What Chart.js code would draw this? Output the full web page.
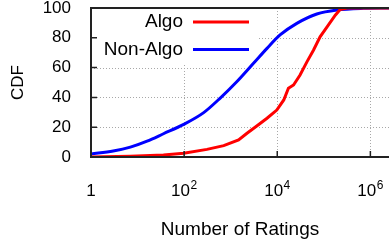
<!DOCTYPE html>
<html>
<head>
<meta charset="utf-8">
<script src="https://cdn.jsdelivr.net/npm/chart.js@4.4.0/dist/chart.umd.min.js"></script>
<style>
  body { margin: 0; background: #fff; }
  canvas { display: block; }
</style>
</head>
<body>
<canvas id="cdfChart" width="389" height="245"></canvas>
<script>
// number of ratings (x) and CDF in percent (y)
const algoRatings = [1, 7, 36, 98, 309, 708, 1479, 2239, 3631, 6026, 9772, 13804, 17378, 22387, 30903, 43652, 60256, 83176, 125893, 177828, 223872, 316228, 2511886];
const algoCdf     = [0, 0.5, 1.3, 2.5, 5.1, 7.6, 11.4, 15.9, 20.8, 26, 31.5, 38.3, 46.1, 48.3, 55, 64, 71.8, 80.7, 88.6, 95.3, 99, 100, 100];

const nonAlgoRatings = [1, 3, 7, 16, 36, 98, 263, 589, 1349, 3090, 6026, 11482, 26303, 70795, 190546, 707946, 2511886];
const nonAlgoCdf     = [2, 4, 6.6, 10.6, 15.6, 21.9, 29.8, 39.4, 50.5, 62.9, 72.9, 81.9, 89.7, 96, 98.7, 99.8, 100];

// x tick values, written as base and exponent ('' = no exponent)
const xTickValues = [1, 100, 10000, 1000000];
const xTickBases = ['1', '10', '10', '10'];
const xTickExps = ['', '2', '4', '6'];
const xMax = 2511886;

const FONT = '"Liberation Sans", Arial, Helvetica, sans-serif';

function toPoints(xs, ys)
{
    const pts = [];
    for (let i = 0; i < xs.length; i++)
    {
        pts.push({ x: xs[i], y: ys[i] });
    }
    return pts;
}

// dotted grid, frame, inner tick marks, x labels with exponents, and the key
const framePlugin = {
    id: 'frame',
    beforeDatasetsDraw(chart) {
        const ctx = chart.ctx;
        const a = chart.chartArea;
        const xs = chart.scales.x;
        const ys = chart.scales.y;
        ctx.save();
        ctx.strokeStyle = '#a8a8a8';
        ctx.lineWidth = 1;
        ctx.setLineDash([1, 2]);
        ctx.beginPath();
        xs.ticks.forEach(t => {
            const px = Math.round(xs.getPixelForValue(t.value)) + 0.5;
            ctx.moveTo(px, a.top);
            ctx.lineTo(px, a.bottom);
        });
        ys.ticks.forEach(t => {
            const py = Math.round(ys.getPixelForValue(t.value)) + 0.5;
            ctx.moveTo(a.left, py);
            ctx.lineTo(a.right, py);
        });
        ctx.stroke();
        ctx.setLineDash([]);
        // white box for the key, hides the grid behind it
        ctx.fillStyle = '#fff';
        ctx.fillRect(a.left + 2, a.top + 2, 165, 53);
        ctx.restore();
    },
    afterDraw(chart) {
        const ctx = chart.ctx;
        const a = chart.chartArea;
        const xs = chart.scales.x;
        const ys = chart.scales.y;
        ctx.save();
        ctx.strokeStyle = '#222';
        ctx.lineWidth = 1.5;
        ctx.beginPath();
        xs.ticks.forEach(t => {
            const px = xs.getPixelForValue(t.value);
            ctx.moveTo(px, a.bottom);
            ctx.lineTo(px, a.bottom - 6);
        });
        ys.ticks.forEach(t => {
            const py = ys.getPixelForValue(t.value);
            ctx.moveTo(a.left, py);
            ctx.lineTo(a.left + 6, py);
        });
        ctx.stroke();
        ctx.lineWidth = 2;
        ctx.strokeRect(a.left, a.top, a.right - a.left + 2, a.bottom - a.top);

        // x tick labels, 10 with a raised exponent
        ctx.fillStyle = '#000';
        ctx.textBaseline = 'alphabetic';
        ctx.textAlign = 'left';
        const baseY = a.bottom + 39;
        xs.ticks.forEach(t => {
            const i = xTickValues.indexOf(t.value);
            if (i < 0) return;
            const px = xs.getPixelForValue(t.value);
            ctx.font = '17px ' + FONT;
            const wb = ctx.measureText(xTickBases[i]).width;
            ctx.font = '12px ' + FONT;
            const we = xTickExps[i] ? ctx.measureText(xTickExps[i]).width + 0.5 : 0;
            const x0 = px - (wb + we) / 2;
            ctx.font = '17px ' + FONT;
            ctx.fillText(xTickBases[i], x0, baseY);
            if (xTickExps[i])
            {
                ctx.font = '12px ' + FONT;
                ctx.fillText(xTickExps[i], x0 + wb + 0.5, baseY - 7);
            }
        });

        // key
        ctx.font = '19px ' + FONT;
        ctx.textAlign = 'right';
        ctx.textBaseline = 'middle';
        chart.data.datasets.forEach((ds, i) => {
            const y = a.top + 14 + i * 27.6;
            ctx.fillStyle = '#000';
            ctx.fillText(ds.label, a.left + 92, y);
            ctx.strokeStyle = ds.borderColor;
            ctx.lineWidth = 3;
            ctx.beginPath();
            ctx.moveTo(a.left + 102, y);
            ctx.lineTo(a.left + 158, y);
            ctx.stroke();
        });
        ctx.restore();
    }
};

const ctx = document.getElementById('cdfChart').getContext('2d');

const cdfChart = new Chart(ctx, {
    type: 'line',
    data: {
        datasets: [{
            label: 'Algo',
            data: toPoints(algoRatings, algoCdf),
            borderColor: '#ff0000',
            borderWidth: 3,
            pointRadius: 0,
            tension: 0,
            fill: false
        }, {
            label: 'Non-Algo',
            data: toPoints(nonAlgoRatings, nonAlgoCdf),
            borderColor: '#0000ff',
            borderWidth: 3,
            pointRadius: 0,
            cubicInterpolationMode: 'monotone',
            fill: false
        }]
    },
    options: {
        responsive: false,
        animation: false,
        layout: { padding: { top: 8, right: 0, left: 0, bottom: 0 } },
        plugins: {
            legend: { display: false },
            tooltip: { enabled: false }
        },
        scales: {
            x: {
                type: 'logarithmic',
                min: 1,
                max: xMax,
                afterBuildTicks(scale) {
                    scale.ticks = xTickValues.map(v => ({ value: v }));
                },
                afterFit(scale) {
                    scale.height = 88;
                    scale.paddingLeft = 0;
                    scale.paddingRight = 0;
                },
                ticks: { display: false },
                grid: { display: false },
                border: { display: false },
                title: {
                    display: true,
                    text: 'Number of Ratings',
                    color: '#000',
                    font: { family: FONT, size: 19 },
                    padding: { top: 0, bottom: 4 }
                }
            },
            y: {
                min: 0,
                max: 100,
                afterFit(scale) {
                    scale.width = 91;
                    scale.paddingTop = 0;
                    scale.paddingBottom = 0;
                },
                ticks: {
                    stepSize: 20,
                    padding: 12,
                    color: '#000',
                    font: { family: FONT, size: 17 }
                },
                grid: { display: false },
                border: { display: false },
                title: {
                    display: true,
                    text: 'CDF',
                    color: '#000',
                    font: { family: FONT, size: 17 },
                    padding: { top: 8, bottom: 0 }
                }
            }
        }
    },
    plugins: [framePlugin]
});
</script>
</body>
</html>
